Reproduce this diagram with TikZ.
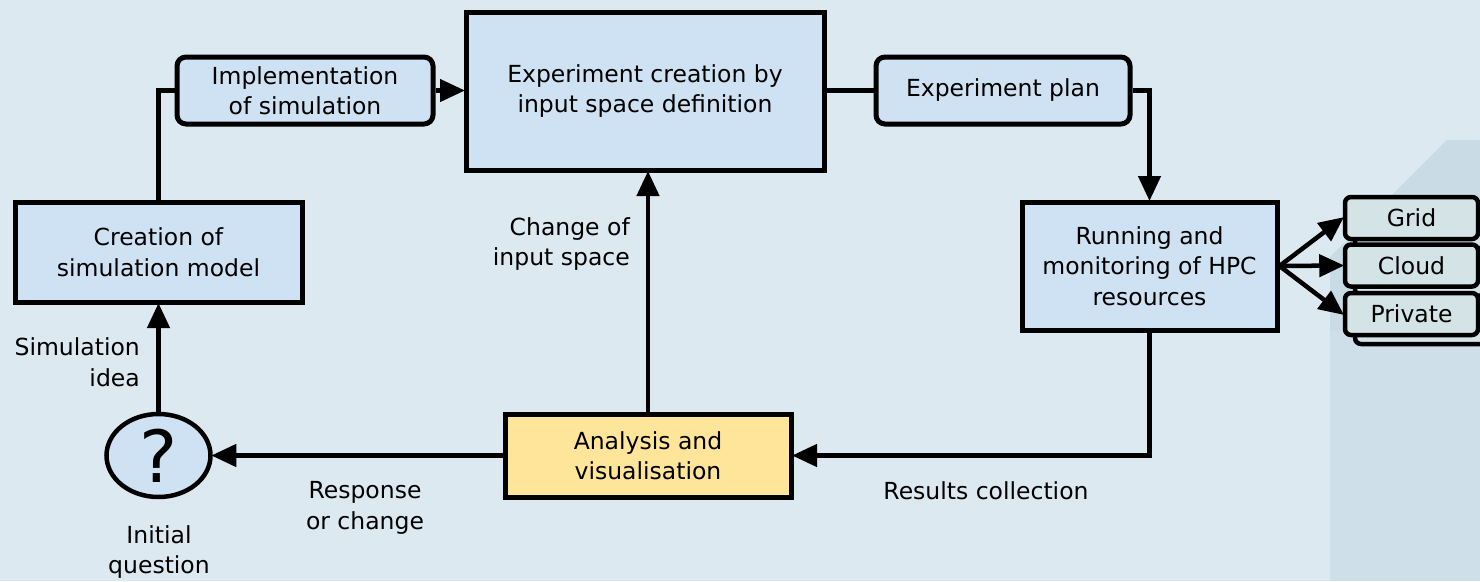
\documentclass[tikz,border=0pt]{standalone}
\usepackage{fontspec}
\setmainfont{DejaVu Sans}
\usetikzlibrary{arrows.meta,shapes.geometric}
\definecolor{bgc}{HTML}{DDE9F1}
\definecolor{bgdark}{HTML}{CFDFE9}
\definecolor{bgtop}{HTML}{C9DCE6}
\definecolor{boxc}{HTML}{CFE2F3}
\definecolor{resc}{HTML}{D4E3E6}
\definecolor{yelc}{HTML}{FFE599}
\tikzset{
  txt/.style={font=\fontsize{23.5}{30.5}\selectfont, align=center, inner sep=0pt, text=black},
  sqbox/.style={txt, draw=black, line width=5pt, fill=boxc, minimum width=#1},
  rbox/.style={sqbox=#1, rounded corners=9pt},
  resbox/.style={txt, draw=black, line width=4.5pt, fill=resc, rounded corners=6pt, minimum width=133pt, minimum height=42pt},
  conn/.style={line width=4.5pt, draw=black},
  arr/.style={conn, -{Triangle[length=25pt,width=22pt]}, shorten >=-1.5pt},
  lbl/.style={txt}
}
\begin{document}
\begin{tikzpicture}[x=1pt,y=-1pt]
\fill[bgc] (0,0) rectangle (1480,581);
\useasboundingbox (0,0) rectangle (1480,581);
\fill[bgdark] (1330,581) -- (1330,257) -- (1447,140) -- (1480,140) -- (1480,581) -- cycle;
\fill[bgtop] (1330,330) -- (1330,257) -- (1447,140) -- (1480,140) -- (1480,330) -- cycle;

% nodes
\node[rbox=256pt, minimum height=67pt] (impl) at (305,90.5) {Implementation\\of simulation};
\node[sqbox=358pt, minimum height=158pt] (exp) at (645,91) {Experiment creation by\\input space definition};
\node[rbox=254pt, minimum height=67pt] (plan) at (1003,90.5) {Experiment plan};
\node[sqbox=287pt, minimum height=100pt] (creat) at (158.5,252) {Creation of\\simulation model};
\node[sqbox=255pt, minimum height=128pt] (run) at (1149.5,266) {Running and\\monitoring of HPC\\resources};
\node[sqbox=286pt, minimum height=83pt, fill=yelc] (ana) at (648,455.5) {Analysis and\\visualisation};
\node[txt, draw=black, line width=4.5pt, fill=boxc, ellipse, minimum width=104pt, minimum height=83pt] (q) at (158.5,455.5) {\fontsize{72}{72}\selectfont ?};

% resource stacks (back copies first)
\node[resbox] (gridb) at (1421.5,227) {};
\node[resbox] (cloudb) at (1421.5,274.5) {};
\node[resbox] (privb) at (1421.5,323) {};
\node[resbox] (grid) at (1411.5,218) {Grid};
\node[resbox] (cloud) at (1411.5,265.5) {Cloud};
\node[resbox] (priv) at (1411.5,314) {Private};

% labels
\node[lbl, anchor=east, align=right] (simidea) at (140,362) {Simulation\\idea};
\node[lbl] (initq) at (159,552) {Initial\\question};
\node[lbl] (resp) at (365,508) {Response\\or change};
\node[lbl, anchor=east, align=right] (chg) at (630,244) {Change of\\input space};
\node[lbl] (resc) at (986,491) {Results collection};

% connectors
\draw[conn] (creat.north) -- (creat.north |- impl.west) -- (impl.west);
\draw[arr] (impl.east) -- (exp.west |- impl.east);
\draw[conn] (exp.east |- plan.west) -- (plan.west);
\draw[arr] (plan.east) -- (run.north |- plan.east) -- (run.north);
\draw[arr] (run.east) -- (grid.west);
\draw[arr] (run.east) -- (cloud.west);
\draw[arr] (run.east) -- (priv.west);
\draw[arr] (run.south) -- (run.south |- ana.east) -- (ana.east);
\draw[arr] (ana.west) -- (q.east);
\draw[arr] (q.north) -- (creat.south);
\draw[arr] (ana.north) -- (ana.north |- exp.south);
\end{tikzpicture}
\end{document}
